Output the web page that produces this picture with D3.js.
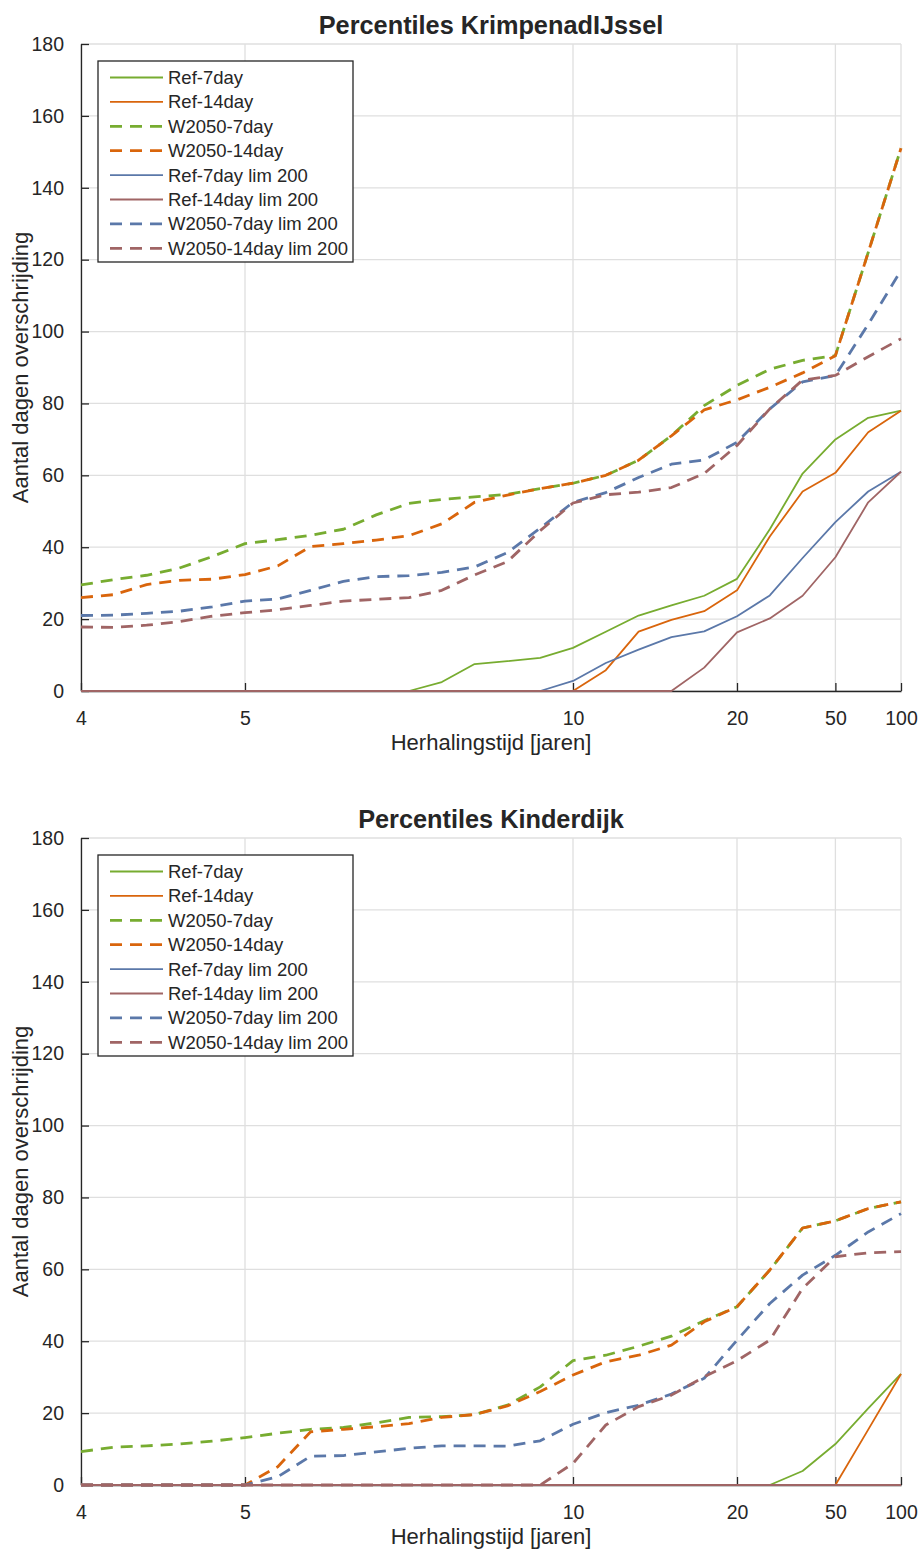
<!DOCTYPE html>
<html>
<head>
<meta charset="utf-8">
<script src="https://cdn.jsdelivr.net/npm/d3@7"></script>
<style>
  body { margin: 0; background: #ffffff; }
  svg { display: block; }
  text { font-family: "Liberation Sans", Arial, Helvetica, sans-serif; fill: #262626; }
</style>
</head>
<body>
<svg id="chart" width="920" height="1549"></svg>
<script>
// ---------------- DATA ----------------
const percentiles = [75,76,77,78,79,80,81,82,83,84,85,86,87,88,89,90,91,92,93,94,95,96,97,98,99,100];
const xTickValues = [75,80,90,95,98,100];
const xTickLabels = ["4","5","10","20","50","100"];
const yTickValues = [0,20,40,60,80,100,120,140,160,180];

const seriesNames = ["Ref-7day","Ref-14day","W2050-7day","W2050-14day",
                     "Ref-7day lim 200","Ref-14day lim 200","W2050-7day lim 200","W2050-14day lim 200"];

// KrimpenadIJssel
const krimpenRef7      = [0,0,0,0,0,0,0,0,0,0,0,2.5,7.5,8.3,9.2,12,16.5,21,23.8,26.5,31.2,45,60.5,70,76,78];
const krimpenRef14     = [0,0,0,0,0,0,0,0,0,0,0,0,0,0,0,0,5.8,16.5,19.8,22.2,28,43,55.5,60.7,72,78];
const krimpenW7        = [29.5,31,32.2,34.2,37.4,41,42.1,43.3,45,49,52.2,53.3,54,54.7,56.3,57.8,60,64.2,71,79.4,85,89.5,92,93.3,122,151];
const krimpenW14       = [26,26.8,29.6,30.8,31.1,32.4,34.8,40.2,41,42,43.2,46.5,52.5,54.5,56.3,57.8,60,64.2,71,78.2,81,84.5,88.5,93.3,122,151];
const krimpenRef7Lim   = [0,0,0,0,0,0,0,0,0,0,0,0,0,0,0,2.8,7.8,11.5,15,16.6,20.8,26.6,37,47,55.5,61];
const krimpenRef14Lim  = [0,0,0,0,0,0,0,0,0,0,0,0,0,0,0,0,0,0,0,6.5,16.3,20.2,26.5,37.2,52.5,61];
const krimpenW7Lim     = [21,21.1,21.6,22.2,23.4,25,25.6,28,30.5,31.8,32.1,33,34.5,38.5,45.3,52.5,55.2,59.4,63.1,64.3,69.2,78.5,86,87.8,102,117];
const krimpenW14Lim    = [17.8,17.7,18.3,19.3,20.8,21.8,22.6,23.8,25,25.5,26,28,32.3,36,44.6,52.3,54.6,55.3,56.6,60.5,68.3,78.5,86.5,87.8,93,98];

// Kinderdijk
const kinderRef7       = [0,0,0,0,0,0,0,0,0,0,0,0,0,0,0,0,0,0,0,0,0,0,3.9,11.4,21.3,30.9];
const kinderRef14      = [0,0,0,0,0,0,0,0,0,0,0,0,0,0,0,0,0,0,0,0,0,0,0,0,15.4,30.9];
const kinderW7         = [9.3,10.5,10.9,11.4,12.2,13.2,14.4,15.5,16,17.3,18.8,19,19.6,22.2,27.3,34.6,36.1,38.6,41.4,45.7,49.6,59.8,71.5,73.5,76.9,78.8];
const kinderW14        = [0,0,0,0,0,0,5.1,14.8,15.5,16.2,17.1,18.8,19.6,22,26,30.6,34.3,36.1,38.9,45.4,49.6,59.8,71.5,73.5,76.9,78.8];
const kinderRef7Lim    = [0,0,0,0,0,0,0,0,0,0,0,0,0,0,0,0,0,0,0,0,0,0,0,0,0,0];
const kinderRef14Lim   = [0,0,0,0,0,0,0,0,0,0,0,0,0,0,0,0,0,0,0,0,0,0,0,0,0,0];
const kinderW7Lim      = [0,0,0,0,0,0,2.3,8,8.2,9.2,10.2,10.9,10.9,10.8,12.3,16.9,20.1,22.2,25.3,29.7,40.3,50.5,58.4,63.9,70.4,75.5];
const kinderW14Lim     = [0,0,0,0,0,0,0,0,0,0,0,0,0,0,0,6,16.7,21.8,25,30.1,34.6,40.3,54.7,63.5,64.6,64.9];

// ---------------- STYLE ----------------
const seriesColors = ["#77ac30","#d9650c","#77ac30","#d9650c","#5b78a9","#a06565","#5b78a9","#a06565"];
const seriesDashed = [false,false,true,true,false,false,true,true];

const charts = [
  { title: "Percentiles KrimpenadIJssel",
    series: [krimpenRef7,krimpenRef14,krimpenW7,krimpenW14,krimpenRef7Lim,krimpenRef14Lim,krimpenW7Lim,krimpenW14Lim] },
  { title: "Percentiles Kinderdijk",
    series: [kinderRef7,kinderRef14,kinderW7,kinderW14,kinderRef7Lim,kinderRef14Lim,kinderW7Lim,kinderW14Lim] }
];

const svg = d3.select("#chart");
const left = 81, right = 901, plotH = 647;
const tops = [44, 838];
const x = d3.scaleLinear().domain([75,100]).range([left,right]);

charts.forEach((ch, ci) => {
  const top = tops[ci], bottom = top + plotH;
  const y = d3.scaleLinear().domain([0,180]).range([bottom, top]);
  const g = svg.append("g");

  // grid
  g.append("g").selectAll("line").data(yTickValues).join("line")
    .attr("x1", left).attr("x2", right)
    .attr("y1", d => y(d)).attr("y2", d => y(d))
    .attr("stroke", "#dfdfdf").attr("stroke-width", 1.3);
  g.append("g").selectAll("line").data(xTickValues).join("line")
    .attr("x1", d => x(d)).attr("x2", d => x(d))
    .attr("y1", top).attr("y2", bottom)
    .attr("stroke", "#dfdfdf").attr("stroke-width", 1.3);

  // axes
  const yAxis = d3.axisLeft(y).tickValues(yTickValues).tickSizeInner(-8).tickSizeOuter(0).tickPadding(17);
  const xAxis = d3.axisBottom(x).tickValues(xTickValues).tickFormat((d,i) => xTickLabels[i])
                  .tickSizeInner(-8).tickSizeOuter(0).tickPadding(20);
  const ya = g.append("g").attr("transform", `translate(${left},0)`).call(yAxis);
  const xa = g.append("g").attr("transform", `translate(0,${bottom})`).call(xAxis);
  [ya, xa].forEach(a => {
    a.select(".domain").attr("stroke", "#262626").attr("stroke-width", 1.3);
    a.selectAll(".tick line").attr("stroke", "#262626").attr("stroke-width", 1.3);
    a.selectAll(".tick text").attr("fill", "#262626").style("font-size", "19.5px")
      .style("font-family", '"Liberation Sans", Arial, sans-serif');
  });

  // lines
  const line = d3.line().x((d,i) => x(percentiles[i])).y(d => y(d));
  ch.series.forEach((s, si) => {
    g.append("path").datum(s)
      .attr("d", line)
      .attr("fill", "none")
      .attr("stroke", seriesColors[si])
      .attr("stroke-width", seriesDashed[si] ? 2.8 : 1.8)
      .attr("stroke-dasharray", seriesDashed[si] ? "12,8" : null)
      .attr("stroke-linejoin", "round");
  });

  // title
  g.append("text").attr("x", (left+right)/2).attr("y", top - 10)
    .attr("text-anchor", "middle").style("font-size", "25.3px").style("font-weight", "bold")
    .attr("fill", "#000").text(ch.title);

  // axis labels
  g.append("text").attr("x", (left+right)/2).attr("y", bottom + 59)
    .attr("text-anchor", "middle").style("font-size", "22px").text("Herhalingstijd [jaren]");
  g.append("text").attr("transform", `translate(28,${(top+bottom)/2}) rotate(-90)`)
    .attr("text-anchor", "middle").style("font-size", "22px").text("Aantal dagen overschrijding");

  // legend
  const lx = 98, ly = top + 17, lw = 255, lh = 201;
  const lg = g.append("g");
  lg.append("rect").attr("x", lx).attr("y", ly).attr("width", lw).attr("height", lh)
    .attr("fill", "#fff").attr("stroke", "#262626").attr("stroke-width", 1.3);
  seriesNames.forEach((name, si) => {
    const ry = ly + 16.5 + si * 24.4;
    lg.append("line").attr("x1", lx + 12).attr("x2", lx + 65).attr("y1", ry).attr("y2", ry)
      .attr("stroke", seriesColors[si])
      .attr("stroke-width", seriesDashed[si] ? 2.8 : 1.8)
      .attr("stroke-dasharray", seriesDashed[si] ? "12,8" : null);
    lg.append("text").attr("x", lx + 70).attr("y", ry).attr("dy", "0.35em")
      .style("font-size", "18.5px").attr("fill", "#000").text(name);
  });
});
</script>
</body>
</html>
